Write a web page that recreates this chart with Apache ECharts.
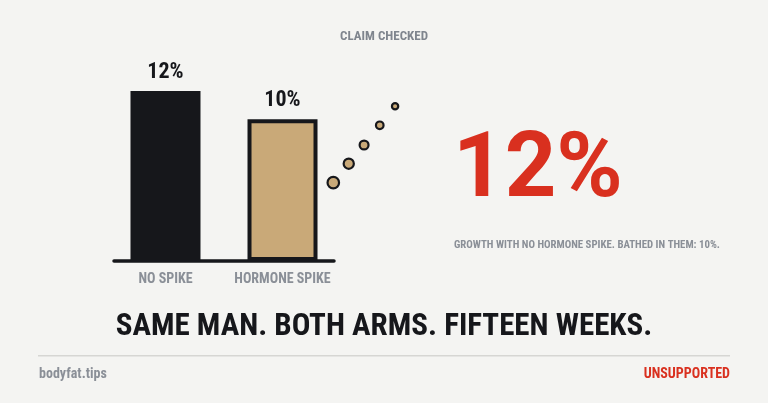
<!DOCTYPE html>
<html><head><meta charset="utf-8">
<script src="https://cdn.jsdelivr.net/npm/echarts@6/dist/echarts.min.js"></script>
<style>html,body{margin:0;padding:0;background:#f4f4f2;}#c{width:768px;height:403px;}</style>
</head><body><div id="c"></div>
<script>
const categories = ['NO SPIKE', 'HORMONE SPIKE'];
const growthValues = [12, 10];
const valueLabels = ['12%', '10%'];
const dotX = [1.434, 1.566, 1.697, 1.831, 1.962];
const dotY = [5.53, 6.87, 8.19, 9.58, 10.92];
const headline = 'SAME MAN. BOTH ARMS. FIFTEEN WEEKS.';
const kicker = 'CLAIM CHECKED';
const bigStat = '12%';
const caption = 'GROWTH WITH NO HORMONE SPIKE. BATHED IN THEM: 10%.';
const brand = 'bodyfat.tips';
const verdict = 'UNSUPPORTED';

const FONT = "'Roboto Condensed','Liberation Sans Narrow','Arial Narrow','DejaVu Sans Condensed',Roboto,sans-serif";
const DARK = '#16171b', TAN = '#c9a978', RED = '#d9301f', GRAY = '#8a8f97';

const chart = echarts.init(document.getElementById('c'), null, {renderer: 'canvas'});
chart.setOption({
  backgroundColor: '#f4f4f2',
  animation: false,
  title: [
    {text: kicker, left: 'center', top: 30, padding: 0, textStyle: {fontFamily: FONT, fontWeight: 'bold', fontSize: 13, color: '#7f858e'}},
    {text: bigStat, left: 453, top: 128, padding: 0, textStyle: {fontFamily: "Roboto,sans-serif", fontWeight: 'bold', fontSize: 90, color: RED}},
    {text: caption, left: 454, top: 240, padding: 0, textStyle: {fontFamily: FONT, fontWeight: 'bold', fontSize: 10.8, color: GRAY}},
    {text: headline, left: 'center', top: 312, padding: 0, textStyle: {fontFamily: FONT, fontWeight: 'bold', fontSize: 31, color: DARK}},
    {text: brand, left: 39, top: 367, padding: 0, textStyle: {fontFamily: FONT, fontWeight: 'bold', fontSize: 14, color: GRAY}},
    {text: verdict, right: 38, top: 367, padding: 0, textStyle: {fontFamily: FONT, fontWeight: 'bold', fontSize: 14, color: RED}}
  ],
  graphic: [
    {type: 'rect', shape: {x: 38, y: 355, width: 692, height: 1.5}, style: {fill: '#d6d6d3'}, silent: true}
  ],
  grid: {left: 114, width: 220, top: 48.5, height: 212.5, containLabel: false},
  xAxis: {
    type: 'value', min: -0.44, max: 1.44,
    axisLine: {show: true, onZero: false, lineStyle: {color: DARK, width: 3.5}},
    axisTick: {show: false}, splitLine: {show: false},
    axisLabel: {customValues: [0, 1], formatter: v => categories[Math.round(v)], margin: 11,
      fontFamily: FONT, fontWeight: 'bold', fontSize: 14, color: GRAY}
  },
  yAxis: {type: 'value', min: 0, max: 15, show: false, splitLine: {show: false}},
  series: [
    {
      type: 'bar', barWidth: 70,
      data: growthValues.map((v, i) => ({
        value: [i, v],
        itemStyle: i === 0 ? {color: DARK} : {color: TAN, borderColor: DARK, borderWidth: 4}
      })),
      label: {show: true, position: 'top', distance: 8, formatter: p => valueLabels[p.dataIndex],
        fontFamily: FONT, fontWeight: 'bold', fontSize: 22, color: DARK},
      z: 2
    },
    {
      type: 'scatter', clip: false,
      data: dotX.map((x, i) => [x, dotY[i]]),
      symbolSize: (v, p) => 11.5 - p.dataIndex * 1.3,
      itemStyle: {color: TAN, borderColor: DARK, borderWidth: 2.2, opacity: 1},
      z: 3
    }
  ]
});
</script></body></html>
